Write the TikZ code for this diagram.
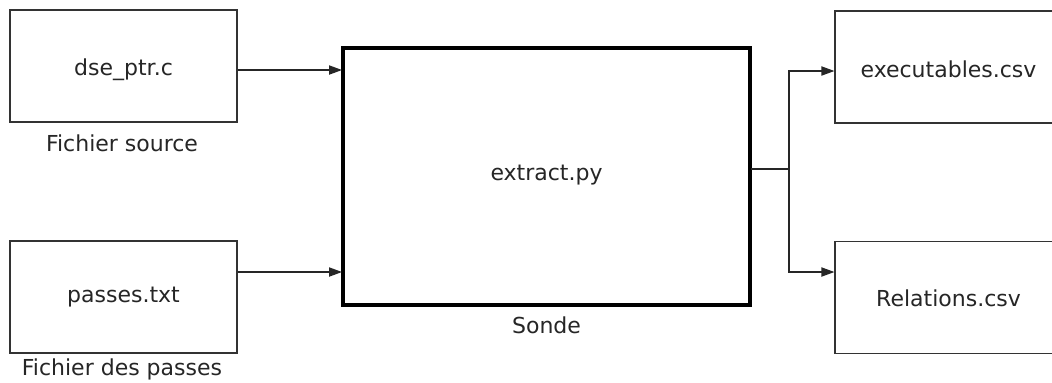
\documentclass[tikz,border=0pt]{standalone}
\usepackage{fontspec}
\setmainfont{DejaVu Sans}
\usetikzlibrary{arrows.meta}
\begin{document}
\begin{tikzpicture}[x=0.5pt,y=-0.5pt,
  every node/.style={font=\fontsize{11}{13}\selectfont, text=black!85},
  filebox/.style={draw=black!80, line width=0.6pt, minimum width=113.5pt, minimum height=56pt, inner sep=0pt},
  probebox/.style={draw=black, line width=1.6pt, minimum width=203.5pt, minimum height=128.5pt, inner sep=0pt},
  lbl/.style={inner sep=0pt},
  arr/.style={draw=black!85, line width=0.6pt, -{Triangle[length=6.5pt,width=4.6pt]}},
  plain/.style={draw=black!85, line width=0.6pt}]
\clip (0,0) rectangle (1052,382);
\fill[white] (0,0) rectangle (1052,382);
% input files
\node[filebox] (src) at (123.5,66) {};
\node[lbl] at (123.5,70) {dse\_ptr.c};
\node[lbl] (srclbl) at (122,143) {Fichier source};
\node[filebox] (pass) at (123.5,297) {};
\node[lbl] at (123.5,297) {passes.txt};
\node[lbl] (passlbl) at (122,369) {Fichier des passes};
% probe
\node[probebox] (probe) at (546.5,176.5) {};
\node[lbl] at (546.5,175) {extract.py};
\node[lbl] (probelbl) at (546.5,325) {Sonde};
% outputs
\node[filebox] (exe) at (948.5,67) {};
\node[lbl] at (948.5,69) {executables.csv};
\node[filebox] (rel) at (948.5,297.5) {};
\node[lbl] at (948.5,298) {Relations.csv};
% connectors
\coordinate (in1) at (342,70);
\coordinate (in2) at (342,272);
\coordinate (out) at (751,169);
\coordinate (split) at (789,169);
\draw[arr] (src.east |- in1) -- (in1);
\draw[arr] (pass.east |- in2) -- (in2);
\draw[plain] (out) -- (split);
\draw[arr] (split) |- (exe.west |- 0,71);
\draw[arr] (split) |- (rel.west |- 0,272);
\end{tikzpicture}
\end{document}
